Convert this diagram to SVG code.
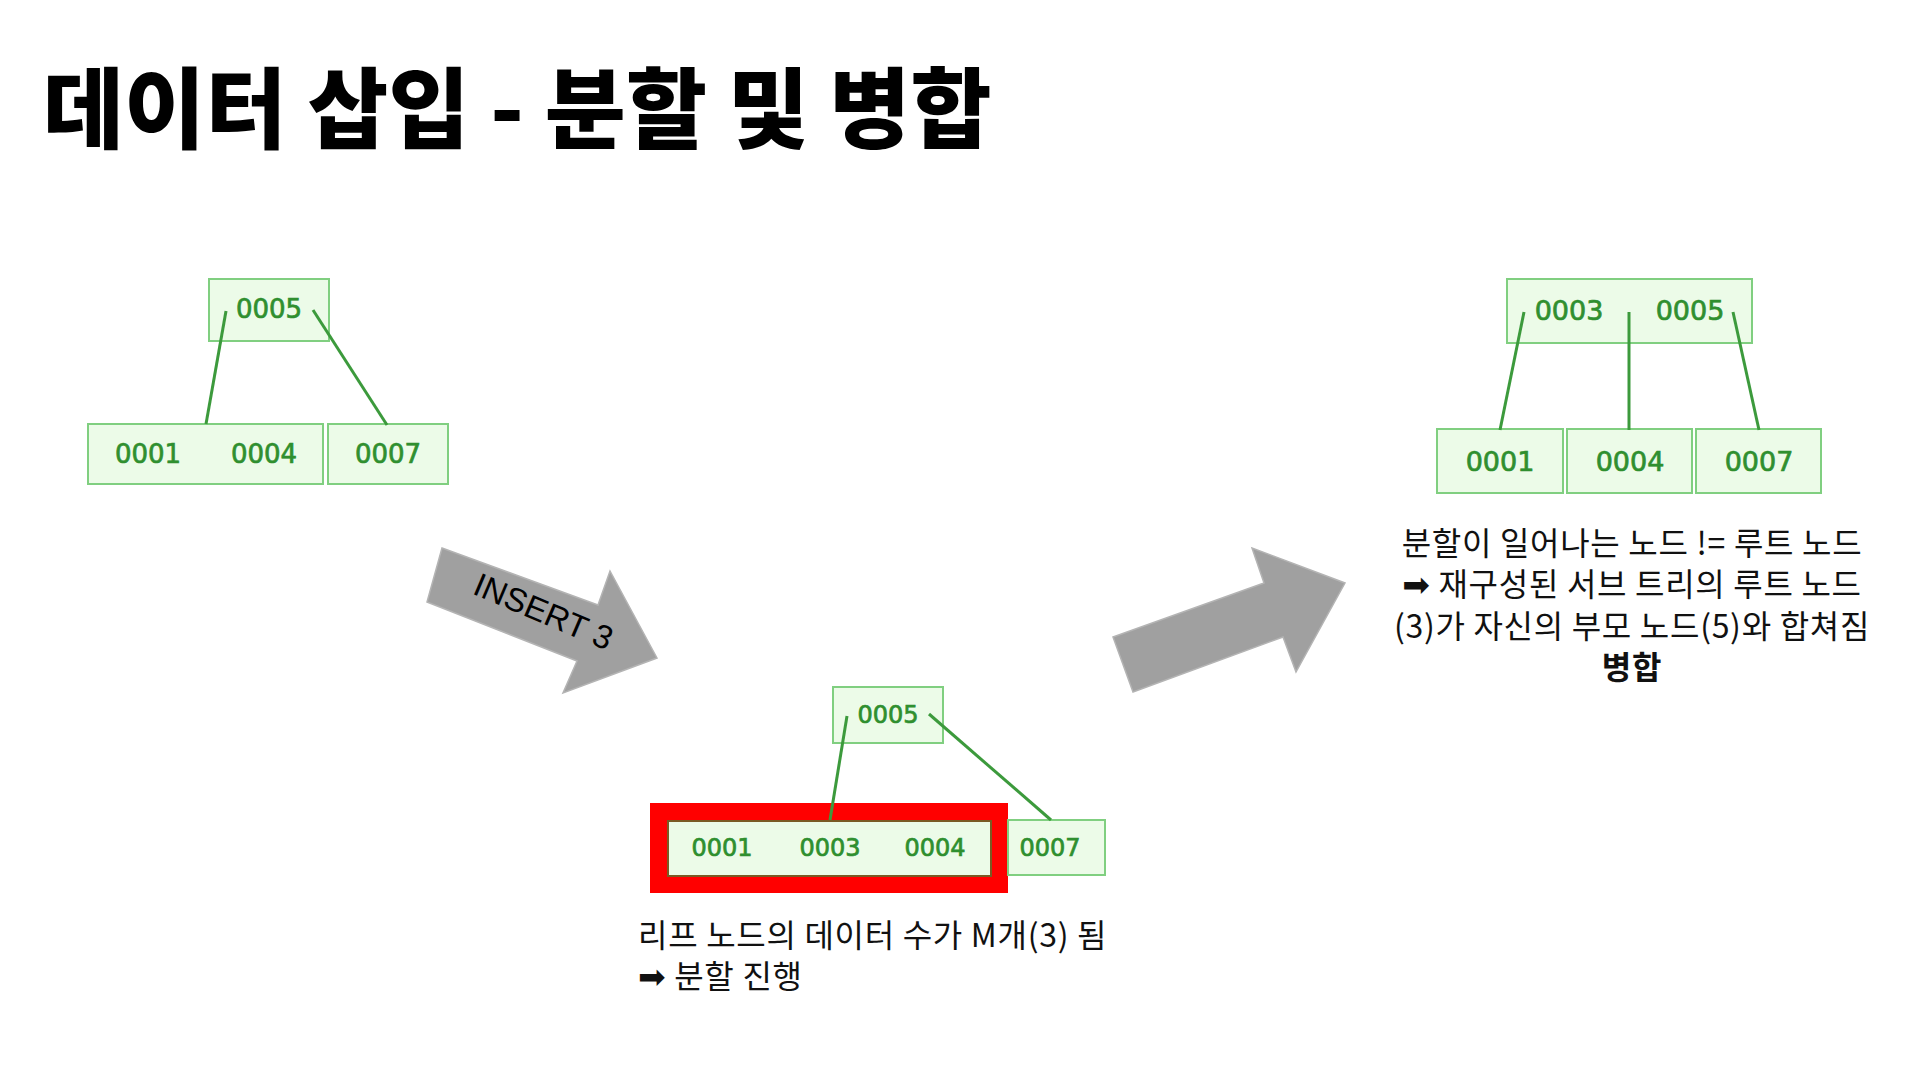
<svg xmlns="http://www.w3.org/2000/svg" width="1920" height="1080" viewBox="0 0 1920 1080">
<style>
.box{fill:#ecfbe8;stroke:#80cf80;stroke-width:2}
.num{font-family:"DejaVu Sans",Verdana,sans-serif;fill:#2f8f2f;stroke:#2f8f2f;stroke-width:0.7;text-anchor:middle}
.edge{stroke:#3c9a3c;stroke-width:3;fill:none}
.cap{font-family:"Noto Sans CJK KR","Noto Sans",sans-serif;font-size:32px;letter-spacing:0.7px;fill:#111}
.arr{font-family:"DejaVu Sans",sans-serif;font-size:33px}
.big{fill:#a0a0a0;stroke:#b4b4b4;stroke-width:1.5}
</style>
<rect width="1920" height="1080" fill="#ffffff"/>
<text id="title" x="43" y="141" font-family="'Noto Sans CJK KR',sans-serif" font-weight="900" font-size="88" letter-spacing="0.3" fill="#000">데이터 삽입 - 분할 및 병합</text>

<g id="tree1-root"><rect class="box" x="209" y="279" width="120" height="62"/><text class="num" x="269" y="318" font-size="26">0005</text></g>
<g id="tree1-leaf1"><rect class="box" x="88" y="424" width="235" height="60"/><text class="num" x="148" y="463" font-size="26">0001</text><text class="num" x="264" y="463" font-size="26">0004</text></g>
<g id="tree1-leaf2"><rect class="box" x="328" y="424" width="120" height="60"/><text class="num" x="388" y="463" font-size="26">0007</text></g>

<g id="arrow-insert"><polygon class="big" points="442,548 598,605 610,571 657,658 563,693 577,661 427,602"/><text transform="translate(539,622) rotate(23)" text-anchor="middle" font-family="'Liberation Sans',Arial,sans-serif" font-size="33" fill="#000">INSERT 3</text></g>

<g id="tree2-root"><rect class="box" x="833" y="687" width="110" height="56"/><text class="num" x="888" y="723" font-size="24">0005</text></g>
<g id="tree2-leaf1"><rect x="650" y="803" width="358" height="90" fill="#ff0000"/><rect x="668" y="821" width="323" height="55" fill="#ecfbe8" stroke="#7a5a24" stroke-width="2"/><text class="num" x="722" y="856" font-size="24">0001</text><text class="num" x="830" y="856" font-size="24">0003</text><text class="num" x="935" y="856" font-size="24">0004</text></g>
<g id="tree2-leaf2"><rect class="box" x="1008" y="820" width="97" height="55"/><text class="num" x="1050" y="856" font-size="24">0007</text></g>

<g id="arrow-merge"><polygon class="big" points="1113,637 1264,583 1252,548 1345,583 1296,672 1283,637 1133,692"/></g>

<g id="tree3-root"><rect class="box" x="1507" y="279" width="245" height="64"/><text class="num" x="1569" y="320" font-size="27">0003</text><text class="num" x="1690" y="320" font-size="27">0005</text></g>
<g id="tree3-leaf1"><rect class="box" x="1437" y="429" width="126" height="64"/><text class="num" x="1500" y="471" font-size="27">0001</text></g>
<g id="tree3-leaf2"><rect class="box" x="1567" y="429" width="125" height="64"/><text class="num" x="1630" y="471" font-size="27">0004</text></g>
<g id="tree3-leaf3"><rect class="box" x="1696" y="429" width="125" height="64"/><text class="num" x="1759" y="471" font-size="27">0007</text></g>

<g id="connectors">
  <line class="edge" x1="226" y1="311" x2="206" y2="424"/>
  <line class="edge" x1="313" y1="310" x2="387" y2="425"/>
  <line class="edge" x1="847" y1="716" x2="830" y2="820"/>
  <line class="edge" x1="929" y1="714" x2="1051" y2="820"/>
  <line class="edge" x1="1524" y1="312" x2="1500" y2="430"/>
  <line class="edge" x1="1629" y1="312" x2="1629" y2="430"/>
  <line class="edge" x1="1733" y1="312" x2="1759" y2="430"/>
</g>

<g id="caption-split"><text class="cap" x="638" y="947">리프 노드의 데이터 수가 M개(3) 됨</text><text class="cap" x="638" y="988"><tspan class="arr">➡</tspan> 분할 진행</text></g>

<g id="caption-merge" text-anchor="middle"><text class="cap" x="1632" y="555">분할이 일어나는 노드 != 루트 노드</text><text class="cap" x="1632" y="596"><tspan class="arr">➡</tspan> 재구성된 서브 트리의 루트 노드</text><text class="cap" x="1632" y="638">(3)가 자신의 부모 노드(5)와 합쳐짐</text><text class="cap" x="1632" y="679" font-weight="700">병합</text></g>
</svg>
